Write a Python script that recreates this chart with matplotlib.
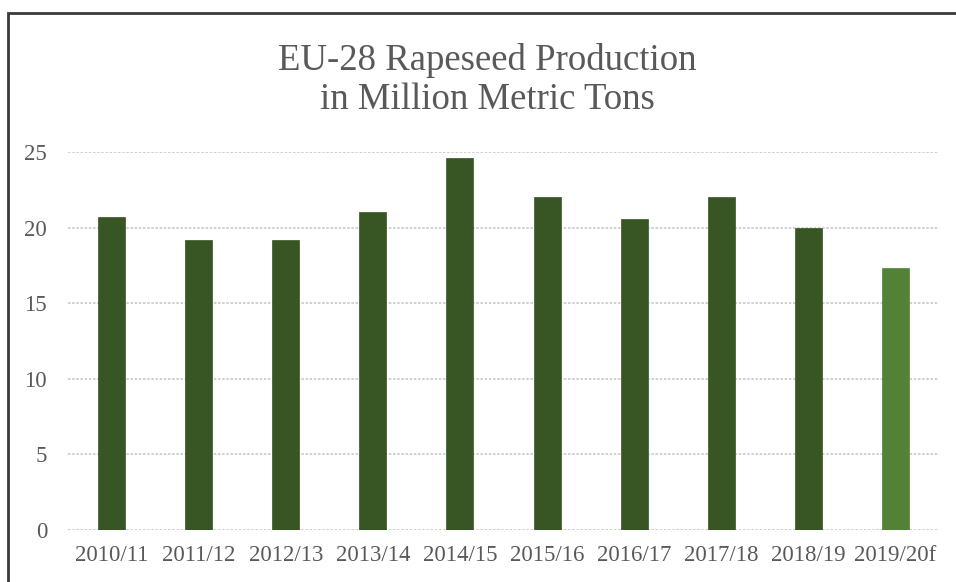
import matplotlib.pyplot as plt
from matplotlib.patches import Rectangle

years = ['2010/11', '2011/12', '2012/13', '2013/14', '2014/15',
         '2015/16', '2016/17', '2017/18', '2018/19', '2019/20f']
production = [20.7, 19.2, 19.2, 21.0, 24.6, 22.0, 20.6, 22.0, 20.0, 17.3]
colors = ['#375623'] * 9 + ['#538135']
yticks = [0, 5, 10, 15, 20, 25]

plt.rcParams['font.family'] = ['Liberation Serif', 'DejaVu Serif']

fig = plt.figure(figsize=(9.56, 5.82), dpi=100)
ax = fig.add_axes([68 / 956, 52 / 582, 871 / 956, 378 / 582])

for y in yticks:
    ax.axhline(y, color='#c8c8c8', lw=1.2, ls=(0, (1.5, 1)), zorder=0)

ax.bar(range(len(years)), production, width=0.31, color=colors,
       edgecolor=colors, lw=0.5, zorder=2)

ax.set_xlim(-0.5, len(years) - 0.5)
ax.set_ylim(0, 25)
ax.set_yticks(yticks)
ax.set_xticks(range(len(years)))
ax.set_xticklabels(years)
ax.tick_params(axis='both', length=0, labelsize=16.5, labelcolor='#595959')
ax.tick_params(axis='y', pad=15)
ax.tick_params(axis='x', pad=11)
for s in ax.spines.values():
    s.set_visible(False)

fig.text(487 / 956, 1 - 70 / 582, 'EU-28 Rapeseed Production',
         ha='center', va='baseline', fontsize=26.5, color='#595959')
fig.text(487 / 956, 1 - 109 / 582, 'in Million Metric Tons',
         ha='center', va='baseline', fontsize=26.5, color='#595959')

# frame around the chart (cut off at right and bottom)
fig.patches.append(Rectangle((7.5 / 956, -0.1), 1.2, 1.1 - 13 / 582,
                             transform=fig.transFigure, fill=False,
                             edgecolor='#3a3a3a', lw=2))

fig.savefig('out.png', dpi=100)
